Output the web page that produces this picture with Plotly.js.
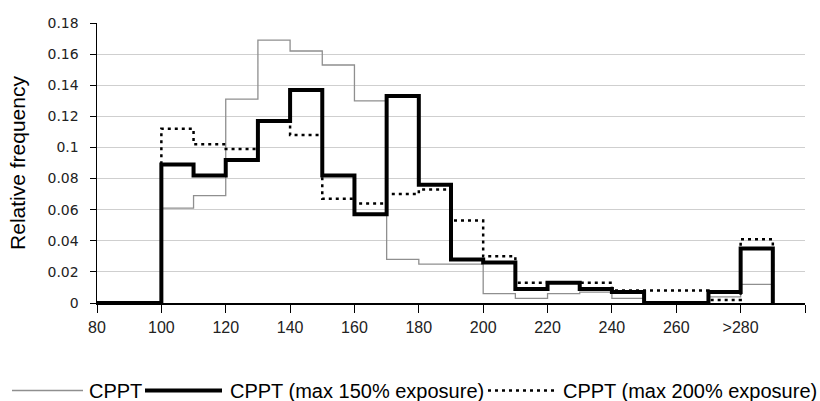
<!DOCTYPE html>
<html>
<head>
<meta charset="utf-8">
<script src="https://cdn.plot.ly/plotly-3.0.1.min.js"></script>
<style>
html,body{margin:0;padding:0;background:#fff;}
#chart{width:820px;height:401px;}
</style>
</head>
<body>
<div id="chart"></div>
<script>
// Bin starts (width 10); last bin is ">280"
var binStarts = [80, 90, 100, 110, 120, 130, 140, 150, 160, 170, 180, 190, 200, 210, 220, 230, 240, 250, 260, 270, 280];
var binEnd = 290;

var cppt      = [0, 0, 0.061, 0.069, 0.131, 0.169, 0.162, 0.153, 0.130, 0.028, 0.025, 0.025, 0.006, 0.003, 0.006, 0.007, 0.003, 0, 0, 0.004, 0.012];
var cppt150   = [0, 0, 0.089, 0.082, 0.092, 0.117, 0.137, 0.082, 0.057, 0.133, 0.076, 0.028, 0.026, 0.009, 0.013, 0.009, 0.007, 0, 0, 0.007, 0.035];
var cppt200   = [0, 0, 0.112, 0.102, 0.099, 0.117, 0.108, 0.067, 0.064, 0.070, 0.073, 0.053, 0.030, 0.013, 0.013, 0.013, 0.008, 0.008, 0.008, 0.002, 0.041];

var seriesNames = ["CPPT", "CPPT (max 150% exposure)", "CPPT (max 200% exposure)"];

var xTickVals = [80, 100, 120, 140, 160, 180, 200, 220, 240, 260, 280, 300];
var xTickText = ["80", "100", "120", "140", "160", "180", "200", "220", "240", "260", ">280", ""];
var yTickVals = [0, 0.02, 0.04, 0.06, 0.08, 0.1, 0.12, 0.14, 0.16, 0.18];
var yTickText = ["0", "0.02", "0.04", "0.06", "0.08", "0.1", "0.12", "0.14", "0.16", "0.18"];

function stepTrace(vals, name, line) {
  return {
    type: 'scatter', mode: 'lines', name: name,
    x: binStarts.concat([binEnd]),
    y: vals.concat([0]),
    line: Object.assign({shape: 'hv'}, line),
    showlegend: false, hoverinfo: 'x+y'
  };
}

var styles = [
  {color: '#8f8f8f', width: 1.3},
  {color: '#000000', width: 4},
  {color: '#000000', width: 2.5, dash: '3px,4px'}
];

var data = [
  stepTrace(cppt, seriesNames[0], styles[0]),
  stepTrace(cppt200, seriesNames[2], styles[2]),
  stepTrace(cppt150, seriesNames[1], styles[1])
];

// plot geometry (pixels) used for the hand-made legend
var L = 97, R = 15, T = 23, B = 98, W = 820, H = 401;
var pw = W - L - R, ph = H - T - B;
function px(x) { return (x - L) / pw; }
function py(y) { return (H - B - y) / ph; }

var legY = 390.5;
var legendItems = [
  {x0: 12, x1: 83, tx: 87, style: styles[0], text: seriesNames[0]},
  {x0: 145, x1: 222, tx: 228, style: styles[1], text: seriesNames[1]},
  {x0: 488, x1: 557, tx: 561, style: styles[2], text: seriesNames[2]}
];
var shapes = [], annotations = [];
legendItems.forEach(function (it) {
  shapes.push({type: 'line', xref: 'paper', yref: 'paper',
    x0: px(it.x0), x1: px(it.x1), y0: py(legY), y1: py(legY),
    line: {color: it.style.color, width: it.style.width, dash: it.style.dash || 'solid'}});
  annotations.push({xref: 'paper', yref: 'paper', x: px(it.tx), y: py(legY),
    xanchor: 'left', yanchor: 'middle', showarrow: false, text: it.text,
    font: {family: 'Liberation Sans, Arial, sans-serif', size: 20, color: '#000'}});
});

var layout = {
  width: W, height: H,
  margin: {l: L, r: R, t: T, b: B},
  paper_bgcolor: '#fff', plot_bgcolor: '#fff',
  showlegend: false,
  xaxis: {
    range: [80, 300], tickmode: 'array', tickvals: xTickVals, ticktext: xTickText,
    showgrid: false, zeroline: false, showline: true, linecolor: '#000', linewidth: 1.5,
    ticks: 'outside', ticklen: 8, tickcolor: '#000', tickwidth: 1, ticklabelstandoff: 1,
    tickfont: {family: 'Liberation Sans Narrow, Arial Narrow, Liberation Sans, Arial', size: 16, color: '#222'}
  },
  yaxis: {
    range: [0, 0.18], tickmode: 'array', tickvals: yTickVals, ticktext: yTickText,
    showgrid: true, gridcolor: '#cfcfcf', gridwidth: 1, zeroline: false,
    showline: true, linecolor: '#000', linewidth: 1.5,
    ticks: 'outside', ticklen: 6, tickcolor: '#000', ticklabelstandoff: 8,
    tickfont: {family: 'DejaVu Sans, sans-serif', size: 14, color: '#222'},
    title: {text: 'Relative frequency', standoff: 16,
      font: {family: 'Liberation Sans, Arial, sans-serif', size: 21, color: '#000'}}
  },
  shapes: shapes,
  annotations: annotations
};

Plotly.newPlot('chart', data, layout, {displayModeBar: false, staticPlot: true});
</script>
</body>
</html>
